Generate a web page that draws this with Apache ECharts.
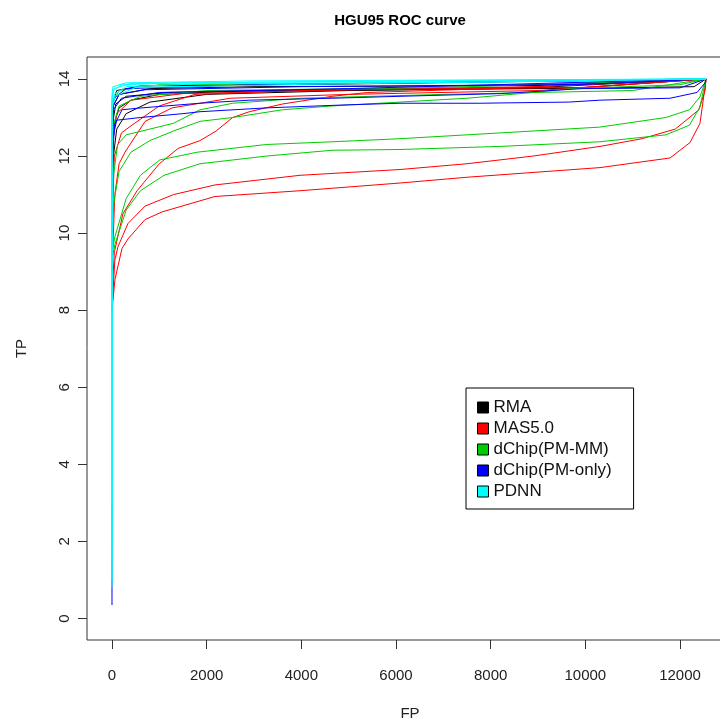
<!DOCTYPE html>
<html><head><meta charset="utf-8">
<script src="https://cdn.jsdelivr.net/npm/echarts@6/dist/echarts.min.js"></script>
<style>html,body{margin:0;padding:0;background:#fff;overflow:hidden}#c{width:760px;height:724px}</style>
</head><body><div id="c"></div>
<script>
const xTicks = [0, 2000, 4000, 6000, 8000, 10000, 12000];
const yTicks = [0, 2, 4, 6, 8, 10, 12, 14];
const methods = ['RMA', 'MAS5.0', 'dChip(PM-MM)', 'dChip(PM-only)', 'PDNN'];
const methodColors = ['#000000', '#FF0000', '#00CD00', '#0000FF', '#00FFFF'];

// RMA (black)
const rma1 = [[0,11.2],[20,12.3],[60,12.9],[150,13.25],[400,13.45],[1000,13.6],[2500,13.68],[6000,13.72],[10000,13.76],[12300,13.8],[12550,14]];
const rma2 = [[0,11.8],[20,12.9],[80,13.35],[300,13.55],[1200,13.65],[4000,13.72],[9000,13.78],[12550,14]];
const rma3 = [[0,12.3],[30,13.3],[150,13.6],[800,13.75],[3000,13.8],[9000,13.83],[12550,14]];
const rma4 = [[0,12.6],[20,13.4],[100,13.7],[600,13.82],[5000,13.87],[12550,14]];
const rma5 = [[0,10.8],[30,12.0],[100,12.7],[300,13.1],[800,13.4],[2000,13.6],[5000,13.7],[10000,13.78],[12550,14]];

// MAS5.0 (red)
const mas1 = [[0,8.0],[63,8.8],[211,9.6],[338,9.85],[697,10.35],[1056,10.55],[1754,10.8],[2176,10.95],[3972,11.1],[6085,11.3],[7500,11.45],[10310,11.7],[11790,11.95],[12212,12.35],[12423,12.85],[12530,13.8],[12550,14]];
const mas2 = [[0,8.0],[60,9.3],[127,9.65],[338,10.25],[697,10.7],[1300,11.0],[2176,11.25],[3972,11.5],[6085,11.65],[7500,11.8],[8900,12.0],[10310,12.25],[11200,12.45],[11900,12.7],[12400,13.2],[12530,13.7],[12550,14]];
const mas3 = [[0,8.4],[50,9.5],[230,10.5],[530,11.1],[1000,11.8],[1400,12.2],[1859,12.4],[2200,12.65],[2550,13.0],[2900,13.15],[3600,13.35],[4650,13.55],[5400,13.65],[8000,13.75],[12550,14]];
const mas4 = [[0,9.0],[60,11.0],[150,11.8],[275,12.1],[700,12.9],[1270,13.25],[2500,13.5],[5000,13.6],[9000,13.7],[12550,14]];
const mas5 = [[0,10.0],[50,12.0],[200,12.6],[420,12.8],[1000,13.3],[1750,13.6],[4000,13.7],[9000,13.8],[12550,14]];
const mas6 = [[0,11.0],[30,12.5],[100,13.1],[400,13.45],[1500,13.62],[5000,13.72],[10000,13.78],[12550,14]];

// dChip PM-MM (green)
const dmm1 = [[0,9.3],[60,9.7],[300,10.6],[600,11.1],[1100,11.5],[1859,11.8],[3270,12.0],[4650,12.15],[6085,12.17],[8200,12.25],[10300,12.37],[11700,12.55],[12200,12.8],[12420,13.27],[12550,14]];
const dmm2 = [[0,9.5],[60,9.9],[300,10.9],[600,11.5],[1010,11.9],[1800,12.1],[3270,12.3],[4650,12.37],[6085,12.45],[8200,12.6],[10300,12.75],[11700,13.0],[12200,13.2],[12420,13.53],[12550,14]];
const dmm3 = [[0,9.8],[40,10.8],[150,11.6],[400,12.1],[800,12.4],[1300,12.65],[1859,12.9],[2550,13.0],[3600,13.2],[4650,13.3],[6085,13.4],[7500,13.5],[8900,13.65],[9700,13.75],[12000,13.85],[12550,14]];
const dmm4 = [[0,10.2],[30,11.5],[120,12.3],[300,12.55],[800,12.7],[1300,12.85],[1859,13.2],[2550,13.37],[4000,13.5],[7000,13.6],[11000,13.7],[12550,14]];
const dmm5 = [[0,11.5],[30,12.8],[150,13.3],[600,13.55],[2000,13.7],[7000,13.78],[12550,14]];
const dmm6 = [[0,12.5],[20,13.4],[150,13.7],[1000,13.85],[6000,13.9],[12550,14]];

// dChip PM-only (blue)
const dpm1 = [[0,0.35],[0,11.0],[20,12.5],[100,12.93],[600,13.0],[1500,13.1],[1859,13.15],[3270,13.25],[5000,13.33],[6085,13.37],[7750,13.37],[9650,13.4],[10310,13.45],[11790,13.5],[12360,13.65],[12530,13.9],[12550,14]];
const dpm2 = [[0,11.5],[50,12.8],[211,13.2],[530,13.24],[1859,13.37],[2900,13.45],[4650,13.5],[6085,13.55],[8200,13.62],[9950,13.75],[12000,13.77],[12550,14]];
const dpm3 = [[0,12.0],[30,13.2],[200,13.5],[1000,13.65],[5000,13.75],[12550,14]];
const dpm4 = [[0,12.5],[40,13.5],[300,13.75],[3000,13.85],[12550,14]];
const dpm5 = [[0,12.2],[25,13.3],[150,13.6],[700,13.72],[4000,13.8],[10000,13.86],[12550,14]];

// PDNN (cyan)
const pdnn1 = [[0,0.8],[0,13.3],[50,13.6],[300,13.8],[2000,13.88],[8000,13.92],[12550,14]];
const pdnn2 = [[0,1.0],[0,13.5],[30,13.7],[200,13.85],[1500,13.9],[12550,14]];
const pdnn3 = [[0,1.5],[0,13.4],[40,13.75],[400,13.88],[5000,13.94],[12550,14]];
const pdnn4 = [[0,2.0],[0,13.6],[20,13.8],[300,13.9],[3000,13.95],[12550,14]];
const pdnn5 = [[0,3.0],[0,13.2],[60,13.55],[500,13.78],[4000,13.86],[12550,14]];

const groups = [
  [rma1, rma2, rma3, rma4, rma5],
  [mas1, mas2, mas3, mas4, mas5, mas6],
  [dmm1, dmm2, dmm3, dmm4, dmm5, dmm6],
  [dpm1, dpm2, dpm3, dpm4, dpm5],
  [pdnn1, pdnn2, pdnn3, pdnn4, pdnn5]
];

const series = [];
groups.forEach((g, i) => {
  g.forEach(d => {
    series.push({
      name: methods[i], type: 'line', data: d, showSymbol: false, symbol: 'none',
      lineStyle: { width: 1, color: methodColors[i] }, itemStyle: { color: methodColors[i] },
      emphasis: { disabled: true }, silent: true
    });
  });
});

const font = 'Liberation Sans, Arial, sans-serif';
const chart = echarts.init(document.getElementById('c'), null, { renderer: 'canvas' });
chart.setOption({
  animation: false,
  backgroundColor: '#fff',
  graphic: [{
    type: 'text', x: 400, y: 13,
    style: { text: 'HGU95 ROC curve', font: 'bold 15px ' + font, fill: '#000', align: 'center', verticalAlign: 'top' }
  }],
  grid: { left: 87, top: 57, width: 646, height: 583, show: true, borderColor: '#333', borderWidth: 1, containLabel: false, outerBoundsMode: 'none' },
  xAxis: {
    type: 'value', min: -528, max: 13120,
    axisLine: { show: false, onZero: false },
    splitLine: { show: false },
    axisTick: { show: true, customValues: xTicks, length: 9, lineStyle: { color: '#333' } },
    axisLabel: { customValues: xTicks, formatter: v => String(v), fontSize: 15, fontFamily: font, color: '#222', margin: 28 },
    name: 'FP', nameLocation: 'middle', nameGap: 66,
    nameTextStyle: { fontSize: 15, fontFamily: font, color: '#222' }
  },
  yAxis: {
    type: 'value', min: -0.558, max: 14.57,
    axisLine: { show: false, onZero: false },
    splitLine: { show: false },
    axisTick: { show: true, customValues: yTicks, length: 9, lineStyle: { color: '#333' } },
    axisLabel: { customValues: yTicks, formatter: v => String(v), rotate: 90, fontSize: 15, fontFamily: font, color: '#222', margin: 15 },
    name: 'TP', nameLocation: 'middle', nameGap: 58, nameRotate: 90,
    nameTextStyle: { fontSize: 15, fontFamily: font, color: '#222' }
  },
  legend: {
    data: methods, orient: 'vertical', left: 466, top: 388,
    icon: 'rect', itemWidth: 11, itemHeight: 11, itemGap: 4,
    padding: [11, 22, 9, 11],
    borderColor: '#000', borderWidth: 1, backgroundColor: '#fff',
    itemStyle: { borderColor: '#000', borderWidth: 1 },
    textStyle: { fontSize: 17, fontFamily: font, color: '#111', lineHeight: 16.5 },
    selectedMode: false
  },
  series: series
});
</script></body></html>
